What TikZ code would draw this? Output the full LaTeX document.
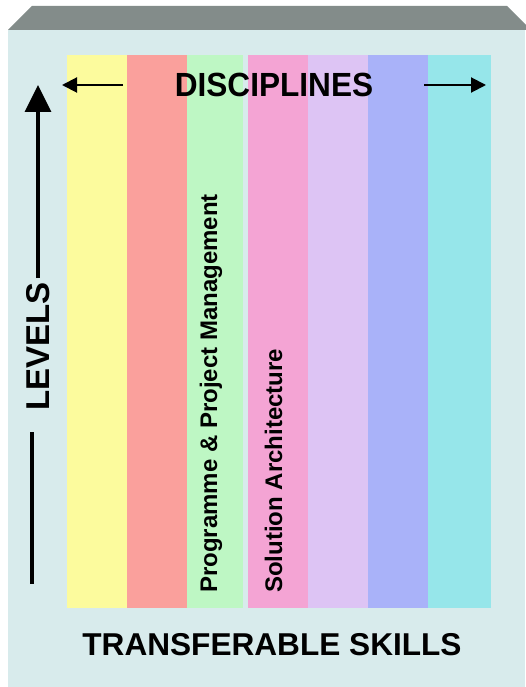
\documentclass[tikz,border=0pt]{standalone}
\usepackage{graphicx}
\usepackage{fontspec}
\setmainfont{Liberation Sans}
\usetikzlibrary{arrows.meta,positioning}

\definecolor{frontface}{HTML}{D8EBEC}
\definecolor{topface}{HTML}{838C8A}
\definecolor{cyellow}{HTML}{FCFB9D}
\definecolor{cred}{HTML}{FAA09C}
\definecolor{cgreen}{HTML}{BEF7C4}
\definecolor{cpink}{HTML}{F4A4D4}
\definecolor{clavender}{HTML}{DDC4F4}
\definecolor{cblue}{HTML}{A9B2F9}
\definecolor{ccyan}{HTML}{96E6EA}

\begin{document}
\begin{tikzpicture}[x=1pt, y=-1pt, font=\bfseries]
    \tikzset{
        title/.style    =   { inner sep=0pt
                            , anchor=base
                            , font=\bfseries\fontsize{31.6}{36}\selectfont
        }
        , side/.style   =   { inner sep=0pt
                            , anchor=base west
                            , rotate=90
                            , font=\bfseries\fontsize{24}{28}\selectfont
        }
        , thin/.style   =   { line width=2pt
                            , -{Triangle[length=15pt, width=15pt]}
        }
        , thick/.style  =   { line width=3.5pt
                            , -{Triangle[length=27pt, width=26pt]}
        }
    }
    \useasboundingbox (0,0) rectangle (525,687);

    % box
    \fill[frontface] (8,30) rectangle (525,687);
    \fill[topface] (8,30) -- (32,6) -- (507,6) -- (531,30) -- cycle;

    % disciplines
    \fill[cyellow]   (67,55)  rectangle (127,608);
    \fill[cred]      (127,55) rectangle (187,608);
    \fill[cgreen]    (187,55) rectangle (243,608);
    \fill[cpink]     (248,55) rectangle (308,608);
    \fill[clavender] (308,55) rectangle (368,608);
    \fill[cblue]     (368,55) rectangle (428,608);
    \fill[ccyan]     (428,55) rectangle (491,608);

    \node(disc)[title] at (274,96.7) {\scalebox{1}[1.06]{DISCIPLINES}};
    \node(skills)[title] at (272,655) {TRANSFERABLE SKILLS};
    \node(ppm)[side] at (217,593) {Programme \& Project Management};
    \node(sol)[side] at (282,593) {Solution Architecture};
    \node(levels)[side, font=\bfseries\fontsize{33}{36}\selectfont] at (49,411) {LEVELS};

    \coordinate(dl) at (123,85);
    \coordinate(dlt) at (62,85);
    \coordinate(dr) at (424,85);
    \coordinate(drt) at (486,85);
    \coordinate(lu) at (38,278);
    \coordinate(lut) at (38,85);
    \coordinate(ld1) at (32,432);
    \coordinate(ld2) at (32,584);

    \draw[thin] (dl) -- (dlt);
    \draw[thin] (dr) -- (drt);
    \draw[thick] (lu) -- (lut);
    \draw[line width=3.5pt] (ld1) -- (ld2);
\end{tikzpicture}
\end{document}
